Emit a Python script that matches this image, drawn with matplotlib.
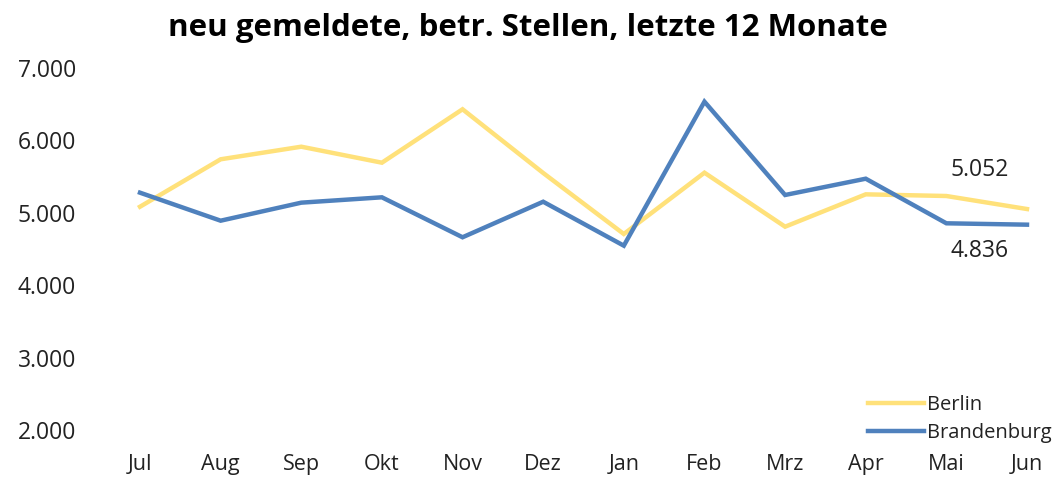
import numpy as np
import matplotlib.pyplot as plt

months = ['Jul', 'Aug', 'Sep', 'Okt', 'Nov', 'Dez', 'Jan', 'Feb', 'Mrz', 'Apr', 'Mai', 'Jun']
berlin = [5084, 5739, 5913, 5692, 6430, 5550, 4707, 5554, 4808, 5255, 5232, 5052]
brandenburg = [5278, 4891, 5140, 5214, 4662, 5153, 4546, 6535, 5246, 5471, 4855, 4836]
yticks = [2000, 3000, 4000, 5000, 6000, 7000]
title = 'neu gemeldete, betr. Stellen, letzte 12 Monate'

plt.rcParams['font.family'] = ['Open Sans', 'DejaVu Sans']

W, H = 1060, 478
fig = plt.figure(figsize=(W / 100, H / 100), dpi=100)
# axes span from first to last category centre, 2.000 to 7.000
ax = fig.add_axes([140 / W, 48 / H, (1027 - 140) / W, (430 - 68) / H])

x = np.arange(len(months))
ax.plot(x, berlin, color='#FFE17A', lw=3.2, label='Berlin', clip_on=False,
        solid_joinstyle='miter')
ax.plot(x, brandenburg, color='#4F81BD', lw=3.2, label='Brandenburg', clip_on=False,
        solid_joinstyle='miter')

ax.set_xlim(0, len(months) - 1)
ax.set_ylim(2000, 7000)
ax.set_xticks(x)
ax.set_xticklabels(months)
ax.set_yticks(yticks)
ax.set_yticklabels([f'{v:,}'.replace(',', '.') for v in yticks])
ax.tick_params(axis='y', length=0, pad=46, labelsize=16.5, colors='#222222')
ax.tick_params(axis='x', length=0, pad=17, labelsize=15.5, colors='#222222')
for s in ax.spines.values():
    s.set_visible(False)

# data labels on the last month
ax.annotate(f'{berlin[-1]:,}'.replace(',', '.'), (x[-1], berlin[-1]),
            xytext=(-34, 28), textcoords='offset points', ha='center', va='center',
            fontsize=16.5, color='#222222')
ax.annotate(f'{brandenburg[-1]:,}'.replace(',', '.'), (x[-1], brandenburg[-1]),
            xytext=(-34, -19), textcoords='offset points', ha='center', va='center',
            fontsize=16.5, color='#222222')

fig.text(528 / W, 1 - 28 / H, title, ha='center', va='center',
         fontsize=22.5, fontweight='bold')

leg = ax.legend(loc='lower left', bbox_to_anchor=(868 / W, 1 - 443 / H),
                bbox_transform=fig.transFigure, frameon=False, fontsize=14.5,
                handlelength=2.8, handletextpad=0.15, labelspacing=0.4,
                borderpad=0, borderaxespad=0)
for t in leg.get_texts():
    t.set_color('#222222')

fig.savefig('out.png', dpi=100)
